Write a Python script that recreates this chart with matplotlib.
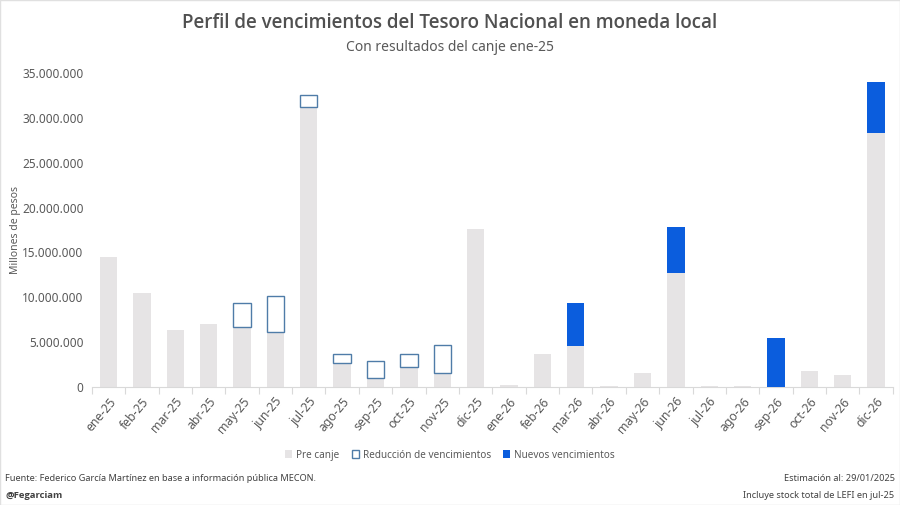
import matplotlib
matplotlib.use("Agg")
from matplotlib import pyplot as plt
from matplotlib.patches import Patch
from matplotlib.ticker import FuncFormatter
import numpy as np

plt.rcParams['font.family'] = ['Noto Sans', 'DejaVu Sans']

months = ['ene-25', 'feb-25', 'mar-25', 'abr-25', 'may-25', 'jun-25', 'jul-25', 'ago-25',
          'sep-25', 'oct-25', 'nov-25', 'dic-25', 'ene-26', 'feb-26', 'mar-26', 'abr-26',
          'may-26', 'jun-26', 'jul-26', 'ago-26', 'sep-26', 'oct-26', 'nov-26', 'dic-26']

# millones de pesos
base = [14450000, 10430000, 6330000, 7000000, 6700000, 6070000, 31200000, 2610000,
        1010000, 2230000, 1490000, 17580000, 190000, 3650000, 4550000, 80000,
        1490000, 12730000, 50000, 50000, 0, 1790000, 1310000, 28300000]
reduccion = [0, 0, 0, 0, 2610000, 4030000, 1400000, 1080000,
             1820000, 1380000, 3200000, 0, 0, 0, 0, 0,
             0, 0, 0, 0, 0, 0, 0, 0]
nuevos = [0, 0, 0, 0, 0, 0, 0, 0,
          0, 0, 0, 0, 0, 0, 4760000, 0,
          0, 5110000, 0, 0, 5400000, 0, 0, 5760000]

gray = '#e6e4e5'
edge = '#4f7ca8'
blue = '#0b5ddd'
txt = '#595959'

fig = plt.figure(figsize=(9, 5.05), dpi=100)
ax = fig.add_axes([0.102, 0.234, 0.890, 0.621])

x = np.arange(len(months))
w = 0.52
ax.bar(x, base, width=w, color=gray, zorder=2)
red = np.array(reduccion)
mask = red > 0
ax.bar(x[mask], red[mask], width=w, bottom=np.array(base)[mask],
       facecolor='none', edgecolor=edge, linewidth=1.0, zorder=3)
ax.bar(x, nuevos, width=w, bottom=base, color=blue, zorder=3)

ax.set_ylim(0, 35000000)
ax.set_xlim(-0.5, len(months) - 0.5)
ax.set_yticks(np.arange(0, 35000001, 5000000))
ax.yaxis.set_major_formatter(FuncFormatter(lambda v, p: f'{int(v):,}'.replace(',', '.')))
ax.tick_params(axis='y', length=0, labelsize=8.5, labelcolor=txt, pad=6)

ax.set_xticks(x)
ax.set_xticklabels(months, rotation=50, ha='right', rotation_mode='anchor')
ax.tick_params(axis='x', length=0, labelsize=8.8, labelcolor=txt, pad=6)
ax.set_xticks(np.arange(-0.5, len(months), 1), minor=True)
ax.tick_params(axis='x', which='minor', length=5, color='#d9d9d9', width=0.8)

for s in ['top', 'right', 'left']:
    ax.spines[s].set_visible(False)
ax.spines['bottom'].set_color('#d9d9d9')

ax.set_ylabel('Millones de pesos', fontsize=7.5, color=txt, labelpad=4)
ax.yaxis.set_label_coords(-0.088, 0.5)

fig.text(0.5, 0.955, 'Perfil de vencimientos del Tesoro Nacional en moneda local',
         ha='center', va='center', fontsize=13.5, fontweight='semibold',
         family=['Open Sans', 'DejaVu Sans'], color='#505050')
fig.text(0.5, 0.906, 'Con resultados del canje ene-25', ha='center', va='center',
         fontsize=10, color=txt)

handles = [Patch(facecolor=gray, edgecolor='none', label='Pre canje'),
           Patch(facecolor='white', edgecolor=edge, label='Reducción de vencimientos'),
           Patch(facecolor=blue, edgecolor='none', label='Nuevos vencimientos')]
fig.legend(handles=handles, loc='center', bbox_to_anchor=(0.5, 0.099), ncol=3,
           frameon=False, fontsize=7.2, labelcolor=txt, handlelength=0.7,
           handleheight=0.9, handletextpad=0.4, columnspacing=1.2)

fig.text(0.006, 0.053, 'Fuente: Federico García Martínez en base a información pública MECON.',
         ha='left', va='center', fontsize=6.6, color='#404040')
fig.text(0.006, 0.018, '@Fegarciam', ha='left', va='center', fontsize=6.8,
         fontweight='bold', family=['Open Sans', 'DejaVu Sans'], color='#404040')
fig.text(0.994, 0.053, 'Estimación al: 29/01/2025', ha='right', va='center',
         fontsize=6.6, color='#404040')
fig.text(0.994, 0.018, 'Incluye stock total de LEFI en jul-25', ha='right', va='center',
         fontsize=6.6, color='#404040')

fig.patches.append(plt.Rectangle((0, 0), 1, 1, transform=fig.transFigure,
                                 fill=False, edgecolor='#e0e0e0', linewidth=1))

fig.savefig('out.png', dpi=100)
